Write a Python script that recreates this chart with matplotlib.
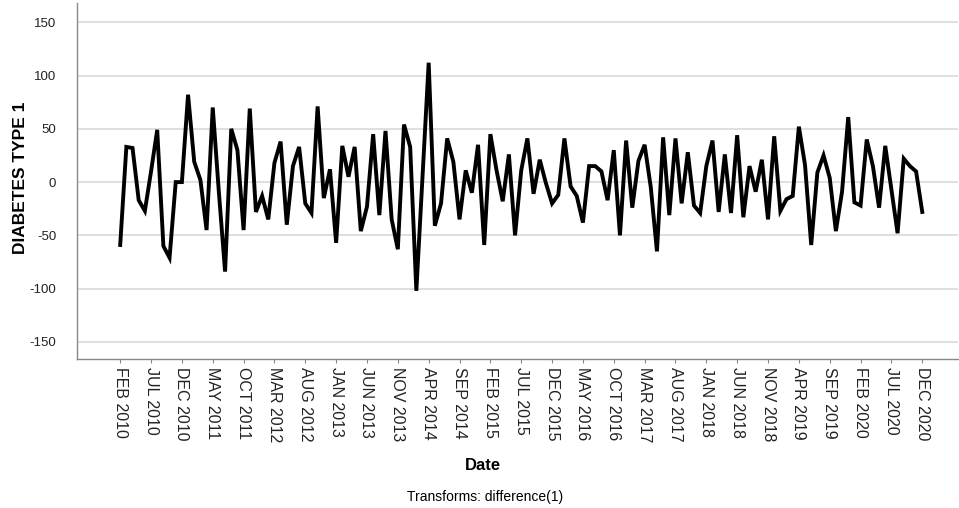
import matplotlib
matplotlib.use("Agg")
import matplotlib.pyplot as plt
import numpy as np
import pandas as pd

plt.rcParams['font.family'] = ['Liberation Sans', 'DejaVu Sans']

# Monthly differenced series, FEB 2010 .. DEC 2020
values = [
    -59, 33, 32, -17, -27, 10, 49, -60, -71, 0,
    0, 82, 19, 2, -45, 70, -10, -84, 50, 30,
    -45, 69, -28, -13, -35, 18, 38, -40, 15, 33,
    -20, -29, 71, -15, 12, -57, 34, 5, 33, -46,
    -23, 45, -31, 48, -35, -63, 54, 33, -102, 5,
    112, -41, -20, 41, 19, -35, 11, -10, 35, -59,
    45, 11, -18, 26, -50, 11, 41, -11, 21, -1,
    -20, -12, 41, -4, -13, -38, 15, 15, 10, -17,
    30, -50, 39, -24, 20, 35, -5, -65, 42, -31,
    41, -20, 28, -22, -29, 15, 39, -28, 26, -29,
    44, -33, 15, -9, 21, -35, 43, -27, -16, -13,
    52, 16, -59, 9, 25, 4, -46, -9, 61, -19,
    -22, 40, 15, -24, 34, -7, -48, 22, 15, 10,
    -28,
]
dates = pd.date_range("2010-02-01", periods=len(values), freq="MS")
tick_labels = [d.strftime("%b %Y").upper() for d in dates[::5]]
y_ticks = [-150, -100, -50, 0, 50, 100, 150]

fig = plt.figure(figsize=(9.59, 5.08), dpi=100)
ax = fig.add_axes([0.0803, 0.2933, 0.9187, 0.7007])

x = np.arange(len(values))
ax.plot(x, values, color="black", linewidth=2.8, solid_joinstyle="miter")

ax.set_xlim(-7, 135.8)
ax.set_ylim(-166, 168)
ax.set_yticks(y_ticks)
ax.set_yticklabels([str(v) for v in y_ticks], fontsize=9.5)
ax.set_xticks(x[::5])
ax.set_xticklabels(tick_labels, rotation=270, fontsize=11.5, va="top", ha="center")
ax.grid(axis="y", color="#d9d9d9", linewidth=1.2)
ax.set_axisbelow(True)
for s in ["top", "right"]:
    ax.spines[s].set_visible(False)
for s in ["left", "bottom"]:
    ax.spines[s].set_color("#888888")
    ax.spines[s].set_linewidth(1.0)
ax.tick_params(axis="y", length=0, pad=15, colors="#222222")
ax.tick_params(axis="x", length=3, pad=3, color="#888888", labelcolor="#222222")

ax.set_ylabel("DIABETES TYPE 1", fontsize=12.5, fontweight="bold")
ax.yaxis.set_label_coords(-0.056, 0.51)
fig.text(0.504, 0.083, "Date", fontsize=12, fontweight="bold", ha="center", va="center")
fig.text(0.506, 0.022, "Transforms: difference(1)", fontsize=10, ha="center", va="center")

fig.savefig("out.png", dpi=100)
